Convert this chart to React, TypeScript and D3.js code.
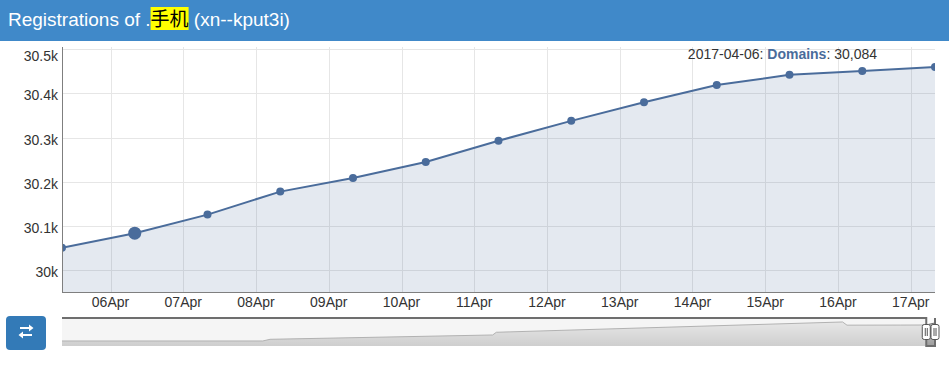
import { useEffect, useRef } from 'react';
import * as d3 from 'd3';

// Daily registration counts shown in the main plot
const dates = [
  '2017-04-05', '2017-04-06', '2017-04-07', '2017-04-08', '2017-04-09', '2017-04-10', '2017-04-11',
  '2017-04-12', '2017-04-13', '2017-04-14', '2017-04-15', '2017-04-16', '2017-04-17',
];
const domains = [30051, 30084, 30126, 30178, 30209, 30245, 30293, 30338, 30380, 30419, 30442, 30451, 30460];
const yTicks = [30000, 30100, 30200, 30300, 30400, 30500];
const highlightDate = '2017-04-06';

// Full history drawn in the range selector
const overviewDates = [
  '2014-01-03', '2014-10-06', '2014-10-16', '2015-08-18', '2015-08-23',
  '2016-12-11', '2016-12-17', '2017-03-01', '2017-04-05',
];
const overviewValues = [26320, 26320, 26710, 27720, 28350, 30750, 30010, 30030, 30051];

const WIDTH = 949;
const HEIGHT = 365;
const SERIES = '#4a6c9b';
const FONT = '"Liberation Sans", Arial, sans-serif';

const toTime = (d: string) => new Date(d + 'T08:00:00Z');

const App = () => {
  const ref = useRef<SVGSVGElement | null>(null);

  useEffect(() => {
    if (!ref.current) return;
    const svg = d3.select(ref.current);
    svg.selectAll('*').remove();

    const plot = { left: 62, right: 935, top: 47, bottom: 292 };
    const points = dates.map((d, i) => ({ date: toTime(d), key: d, value: domains[i] }));

    const x = d3.scaleUtc()
      .domain(d3.extent(points, p => p.date) as [Date, Date])
      .range([plot.left, plot.right]);
    const y = d3.scaleLinear().domain([29951, 30505]).range([plot.bottom, plot.top]);

    svg.append('rect').attr('width', WIDTH).attr('height', HEIGHT).attr('fill', '#fff');

    // Header bar with title
    svg.append('rect').attr('width', WIDTH).attr('height', 41).attr('fill', '#4089c9');
    const title = svg.append('text')
      .attr('x', 8).attr('y', 26)
      .style('font-family', FONT).style('font-size', '19px').attr('fill', '#fff');
    const t1 = title.append('tspan').text('Registrations of .');
    const t2 = title.append('tspan')
      .style('font-family', '"Noto Sans CJK SC", sans-serif').attr('fill', '#000').text('手机');
    title.append('tspan').text(' (xn--kput3i)');
    const w1 = (t1.node() as SVGTextContentElement).getComputedTextLength();
    const w2 = (t2.node() as SVGTextContentElement).getComputedTextLength();
    svg.insert('rect', 'text')
      .attr('x', 8 + w1).attr('y', 7).attr('width', w2).attr('height', 23).attr('fill', '#ffff00');

    // Clip for plot contents
    svg.append('defs').append('clipPath').attr('id', 'plotClip')
      .append('rect')
      .attr('x', plot.left).attr('y', plot.top)
      .attr('width', plot.right - plot.left).attr('height', plot.bottom - plot.top);

    const dayTicks = d3.utcDay.range(d3.utcDay.ceil(x.domain()[0]), x.domain()[1]);

    // Grid
    const grid = svg.append('g').attr('stroke', '#e6e6e6').attr('stroke-width', 1);
    yTicks.forEach(t => {
      grid.append('line')
        .attr('x1', plot.left).attr('x2', plot.right)
        .attr('y1', Math.round(y(t)) + 0.5).attr('y2', Math.round(y(t)) + 0.5);
    });
    dayTicks.forEach(t => {
      grid.append('line')
        .attr('x1', Math.round(x(t)) + 0.5).attr('x2', Math.round(x(t)) + 0.5)
        .attr('y1', plot.top).attr('y2', plot.bottom);
    });

    const content = svg.append('g').attr('clip-path', 'url(#plotClip)');

    const area = d3.area<typeof points[0]>()
      .x(p => x(p.date)).y0(plot.bottom).y1(p => y(p.value));
    content.append('path').datum(points)
      .attr('d', area).attr('fill', SERIES).attr('fill-opacity', 0.15);

    const line = d3.line<typeof points[0]>().x(p => x(p.date)).y(p => y(p.value));
    content.append('path').datum(points)
      .attr('d', line).attr('fill', 'none').attr('stroke', SERIES).attr('stroke-width', 2);

    content.selectAll('circle').data(points).enter().append('circle')
      .attr('cx', p => x(p.date)).attr('cy', p => y(p.value))
      .attr('r', p => (p.key === highlightDate ? 6.5 : 4))
      .attr('fill', SERIES);

    // Axis lines
    svg.append('line')
      .attr('x1', plot.left + 0.5).attr('x2', plot.left + 0.5)
      .attr('y1', plot.top).attr('y2', plot.bottom + 0.5)
      .attr('stroke', '#7f7f7f');
    svg.append('line')
      .attr('x1', plot.left).attr('x2', plot.right)
      .attr('y1', plot.bottom + 0.5).attr('y2', plot.bottom + 0.5)
      .attr('stroke', '#7f7f7f');

    // Y labels
    svg.append('g').selectAll('text').data(yTicks).enter().append('text')
      .attr('x', 58)
      .attr('y', t => Math.max(y(t) + 7, 61))
      .attr('text-anchor', 'end')
      .style('font-family', FONT).style('font-size', '14px').attr('fill', '#333')
      .text(t => `${t / 1000}k`);

    // X labels
    const fmt = d3.utcFormat('%d%b');
    svg.append('g').selectAll('text').data(dayTicks).enter().append('text')
      .attr('x', t => x(t)).attr('y', 307)
      .attr('text-anchor', 'middle')
      .style('font-family', FONT).style('font-size', '14px').attr('fill', '#333')
      .text(t => fmt(t));

    // Legend
    const hp = points.find(p => p.key === highlightDate)!;
    const legend = svg.append('text')
      .attr('x', 877).attr('y', 59).attr('text-anchor', 'end')
      .style('font-family', FONT).style('font-size', '14px').attr('fill', '#333');
    legend.append('tspan').text(`${highlightDate}: `);
    legend.append('tspan').attr('fill', SERIES).style('font-weight', 'bold').text('Domains');
    legend.append('tspan').text(`: ${d3.format(',')(hp.value)}`);

    // Range selector
    const rs = { left: 62, right: 935, top: 318, bottom: 346 };
    const ov = overviewDates.map((d, i) => ({ date: toTime(d), value: overviewValues[i] }))
      .concat(points.map(p => ({ date: p.date, value: p.value })));
    const ox = d3.scaleUtc()
      .domain(d3.extent(ov, p => p.date) as [Date, Date])
      .range([rs.left, rs.right]);
    const oy = d3.scaleLinear().domain([25150, 31680]).range([rs.bottom, rs.top]);

    const defs = svg.select('defs');
    const grad = defs.append('linearGradient').attr('id', 'miniFill')
      .attr('x1', 0).attr('x2', 0).attr('y1', 0).attr('y2', 1);
    grad.append('stop').attr('offset', '0%').attr('stop-color', '#d8d8d8');
    grad.append('stop').attr('offset', '100%').attr('stop-color', '#9c9c9c');

    svg.append('rect')
      .attr('x', rs.left).attr('y', rs.top)
      .attr('width', rs.right - rs.left).attr('height', rs.bottom - rs.top)
      .attr('fill', '#fcfcfc');
    const miniArea = d3.area<typeof ov[0]>()
      .x(p => ox(p.date)).y0(rs.bottom).y1(p => oy(p.value));
    svg.append('path').datum(ov).attr('d', miniArea).attr('fill', 'url(#miniFill)');
    svg.append('path').datum(ov)
      .attr('d', d3.line<typeof ov[0]>().x(p => ox(p.date)).y(p => oy(p.value)))
      .attr('fill', 'none').attr('stroke', '#555').attr('stroke-width', 1);

    const selL = ox(points[0].date);
    const selR = ox(points[points.length - 1].date);
    svg.append('rect')
      .attr('x', rs.left).attr('y', rs.top)
      .attr('width', selL - rs.left).attr('height', rs.bottom - rs.top)
      .attr('fill', 'rgba(240,240,240,0.6)');

    svg.append('path')
      .attr('d', `M${rs.left},${rs.top} H${selL} V${rs.bottom} H${selR} V${rs.top}`)
      .attr('fill', 'none').attr('stroke', '#6e6e6e').attr('stroke-width', 2);

    [selL, selR].forEach(hx => {
      const h = svg.append('g').attr('transform', `translate(${hx - 4.5},${324})`);
      h.append('rect').attr('x', 0.5).attr('y', 0.5).attr('width', 8).attr('height', 15).attr('rx', 2)
        .attr('fill', '#fff').attr('stroke', '#555');
      h.append('line').attr('x1', 3.5).attr('x2', 3.5).attr('y1', 4).attr('y2', 12).attr('stroke', '#555');
      h.append('line').attr('x1', 5.5).attr('x2', 5.5).attr('y1', 4).attr('y2', 12).attr('stroke', '#555');
    });

    // Toggle button
    svg.append('rect')
      .attr('x', 6).attr('y', 316).attr('width', 40).attr('height', 34).attr('rx', 4)
      .attr('fill', '#337ab7');
    const icon = svg.append('g').attr('fill', '#fff');
    icon.append('path').attr('d', 'M20,327 H29 V324.5 L33.5,328 L29,331.5 V329 H20 Z');
    icon.append('path').attr('d', 'M32,334 H23 V331.5 L18.5,335 L23,338.5 V336 H32 Z');

    return () => {
      svg.selectAll('*').remove();
    };
  }, []);

  return (
    <svg
      ref={ref}
      width={WIDTH}
      height={HEIGHT}
      style={{ position: 'absolute', left: 0, top: 0 }}
    />
  );
};

export default App;
